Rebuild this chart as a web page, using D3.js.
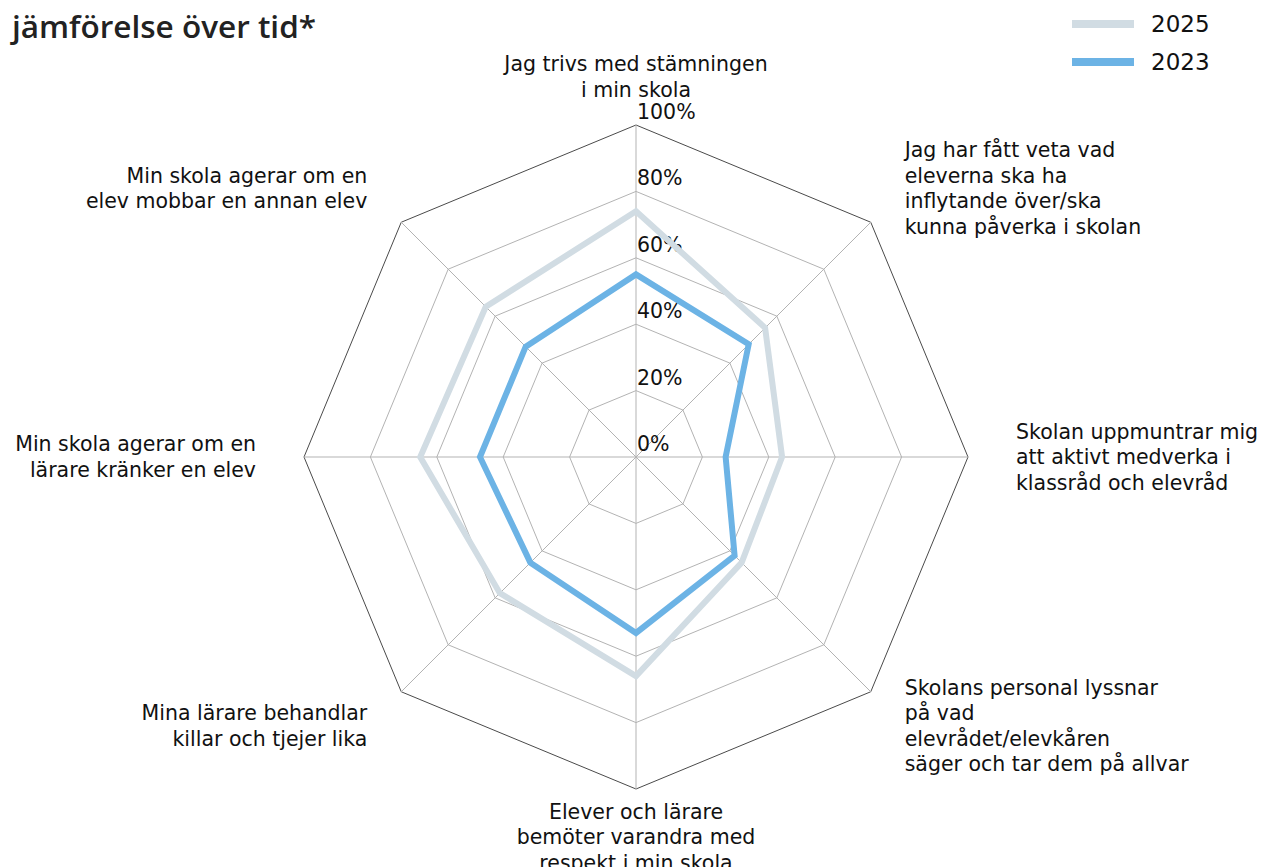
<!DOCTYPE html>
<html>
<head>
<meta charset="utf-8">
<script src="https://cdn.jsdelivr.net/npm/d3@7"></script>
<style>
  body { margin: 0; background: #fff; }
  svg { display: block; }
</style>
</head>
<body>
<div id="chart"></div>
<script>
// axis labels, clockwise from the top
var axes = [
    ["Jag trivs med stämningen", "i min skola"],
    ["Jag har fått veta vad", "eleverna ska ha", "inflytande över/ska", "kunna påverka i skolan"],
    ["Skolan uppmuntrar mig", "att aktivt medverka i", "klassråd och elevråd"],
    ["Skolans personal lyssnar", "på vad", "elevrådet/elevkåren", "säger och tar dem på allvar"],
    ["Elever och lärare", "bemöter varandra med", "respekt i min skola"],
    ["Mina lärare behandlar", "killar och tjejer lika"],
    ["Min skola agerar om en", "lärare kränker en elev"],
    ["Min skola agerar om en", "elev mobbar en annan elev"]
];

var years = ["2025", "2023"];
var values2025 = [74, 55, 44, 45, 66, 58, 65, 64];
var values2023 = [55, 48, 27, 42, 53, 45, 47, 47];
var ticks = [0, 20, 40, 60, 80, 100];

var colors = {"2025": "#d1dce3", "2023": "#6cb3e5"};

var width = 1264, height = 867;
var cx = 636, cy = 457, R = 332;
var labelFont = "'DejaVu Sans', sans-serif";
var labelSize = 20.5;

var svg = d3.select('#chart').append('svg')
    .attr('width', width)
    .attr('height', height);

var r = d3.scaleLinear().domain([0, 100]).range([0, R]);
var angle = d3.scaleLinear().domain([0, axes.length]).range([0, 2 * Math.PI]);

function pt(i, v) {
    var a = angle(i);
    return [cx + r(v) * Math.sin(a), cy - r(v) * Math.cos(a)];
}

// title (first line is cut off above the page)
svg.append('text')
    .attr('x', 12)
    .attr('y', 38)
    .attr('font-family', "'Open Sans', sans-serif")
    .attr('font-weight', 600)
    .attr('font-size', 31.5)
    .attr('fill', '#222')
    .text('jämförelse över tid*');

// grid
var grid = svg.append('g').attr('class', 'grid');

grid.selectAll('polygon')
    .data(ticks.filter(function(t) { return t > 0; }))
    .enter().append('polygon')
    .attr('points', function(t) {
        return axes.map(function(d, i) { return pt(i, t).join(','); }).join(' ');
    })
    .attr('fill', 'none')
    .attr('stroke', function(t) { return t === 100 ? '#4a4a4a' : '#b3b3b3'; })
    .attr('stroke-width', 1);

grid.selectAll('line')
    .data(axes)
    .enter().append('line')
    .attr('x1', cx)
    .attr('y1', cy)
    .attr('x2', function(d, i) { return pt(i, 100)[0]; })
    .attr('y2', function(d, i) { return pt(i, 100)[1]; })
    .attr('stroke', '#b3b3b3')
    .attr('stroke-width', 1);

// tick labels
svg.append('g').selectAll('text')
    .data(ticks)
    .enter().append('text')
    .attr('x', cx + 1)
    .attr('y', function(t) { return cy - r(t) - 6; })
    .attr('font-family', labelFont)
    .attr('font-size', labelSize)
    .attr('fill', '#111')
    .text(function(t) { return t + '%'; });

// series
var series = [
    {year: "2025", values: values2025},
    {year: "2023", values: values2023}
];

var line = d3.lineRadial()
    .angle(function(d, i) { return angle(i); })
    .radius(function(d) { return r(d); })
    .curve(d3.curveLinearClosed);

svg.append('g')
    .attr('transform', 'translate(' + cx + ',' + cy + ')')
    .selectAll('path')
    .data(series)
    .enter().append('path')
    .attr('d', function(s) { return line(s.values); })
    .attr('fill', 'none')
    .attr('stroke', function(s) { return colors[s.year]; })
    .attr('stroke-width', 6)
    .attr('stroke-linejoin', 'miter');

// axis names
var lineH = 25.5;
svg.append('g').selectAll('text')
    .data(axes)
    .enter().append('text')
    .attr('font-family', labelFont)
    .attr('font-size', labelSize)
    .attr('fill', '#111')
    .attr('text-anchor', function(d, i) {
        var x = Math.sin(angle(i));
        return Math.abs(x) < 0.01 ? 'middle' : (x > 0 ? 'start' : 'end');
    })
    .each(function(d, i) {
        var p = pt(i, 100 + 48 / R * 100);
        var top = p[1] - (d.length - 1) * lineH / 2;
        d3.select(this).selectAll('tspan')
            .data(d)
            .enter().append('tspan')
            .attr('x', p[0])
            .attr('y', function(s, j) { return top + j * lineH; })
            .attr('dy', '0.35em')
            .text(function(s) { return s; });
    });

// legend
var legend = svg.append('g').selectAll('g')
    .data(years)
    .enter().append('g')
    .attr('transform', function(d, i) { return 'translate(1072,' + (24 + i * 38) + ')'; });

legend.append('line')
    .attr('x1', 0).attr('x2', 62)
    .attr('stroke', function(d) { return colors[d]; })
    .attr('stroke-width', 8);

legend.append('text')
    .attr('x', 79)
    .attr('dy', '0.35em')
    .attr('font-family', labelFont)
    .attr('font-size', 23)
    .attr('fill', '#111')
    .text(function(d) { return d; });
</script>
</body>
</html>
